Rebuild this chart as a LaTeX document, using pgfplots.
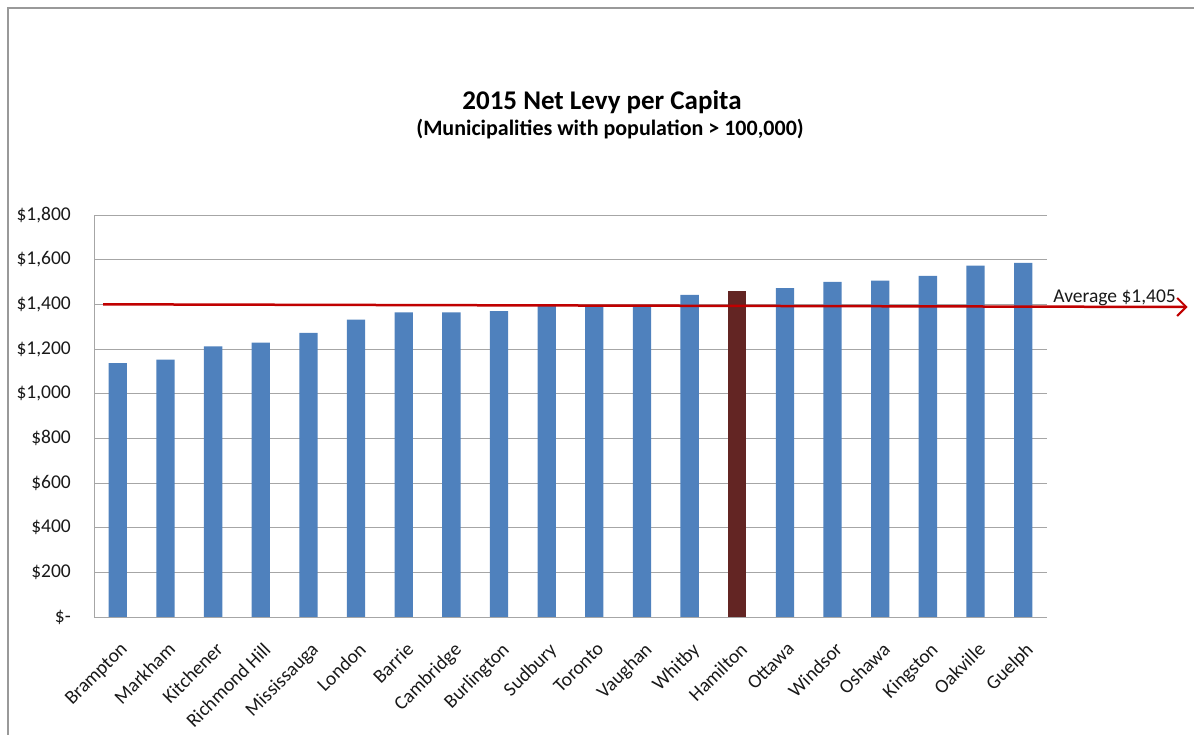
\documentclass[border=0pt]{standalone}
\usepackage{pgfplots}
\pgfplotsset{compat=1.18}
\usetikzlibrary{arrows.meta}
\usepackage{fontspec}
\setmainfont{Carlito}

\definecolor{barblue}{HTML}{4F81BD}
\definecolor{hambar}{HTML}{632523}
\definecolor{avgred}{HTML}{C00000}
\definecolor{gridgray}{HTML}{A6A6A6}

\begin{document}
\begin{tikzpicture}[x=1pt,y=1pt]
  \useasboundingbox (0,0) rectangle (1194,735);
  % outer frame (left and top only)
  \draw[gray!80, line width=1.5pt] (8,0) -- (8,727) -- (1194,727);

  \node[anchor=base, inner sep=0pt, font=\fontsize{27}{32}\selectfont\bfseries]
    at (602,625) {2015 Net Levy per Capita};
  \node[anchor=base, inner sep=0pt, font=\fontsize{22}{26}\selectfont\bfseries]
    at (610,599) {(Municipalities with population > 100,000)};

  \begin{axis}[
    at={(94pt,118pt)}, anchor=south west,
    scale only axis, width=953pt, height=402pt,
    xmin=-0.5, xmax=19.5, ymin=0, ymax=1800,
    clip=false,
    axis x line*=bottom, axis y line*=left,
    axis line style={draw=gridgray, line width=0.8pt, -},
    ymajorgrids, grid style={gridgray, line width=0.8pt},
    major tick length=0pt,
    ytick={0,200,...,1800},
    yticklabels={{\$-\hspace{11pt}}, {\$200}, {\$400}, {\$600}, {\$800}, {\$1,000}, {\$1,200}, {\$1,400}, {\$1,600}, {\$1,800}},
    xtick={0,...,19},
    xticklabels={Brampton, Markham, Kitchener, Richmond Hill, Mississauga, London, Barrie, Cambridge, Burlington, Sudbury, Toronto, Vaughan, Whitby, Hamilton, Ottawa, Windsor, Oshawa, Kingston, Oakville, Guelph},
    tick label style={font=\fontsize{19.5}{23}\selectfont, text=black!90},
    yticklabel style={anchor=east, inner sep=0pt, xshift=-23pt},
    xticklabel style={rotate=45, anchor=north east, inner sep=0pt, xshift=-16pt, yshift=-18pt},
  ]
    \addplot[ybar, bar width=18.3pt, bar shift=0pt, fill=barblue, draw=none] coordinates {
      (0,1137) (1,1152) (2,1212) (3,1228) (4,1272) (5,1331) (6,1364) (7,1364)
      (8,1369) (9,1393) (10,1396) (11,1398) (12,1442)
      (14,1472) (15,1501) (16,1506) (17,1527) (18,1573) (19,1586)
    };
    \addplot[ybar, bar width=18.3pt, bar shift=0pt, fill=hambar, draw=none] coordinates {
      (13,1460)
    };
    % average line
    \addplot[avgred, line width=2.5pt, -{Straight Barb[length=9pt, width=18pt, line width=2pt]}] coordinates {
      (-0.31,1400) (22.45,1388)
    };
    \node[anchor=base west, inner sep=0pt, font=\fontsize{19.5}{23}\selectfont, text=black!90]
      at (axis cs:19.63,1410) {Average \$1,405};
  \end{axis}
\end{tikzpicture}
\end{document}
